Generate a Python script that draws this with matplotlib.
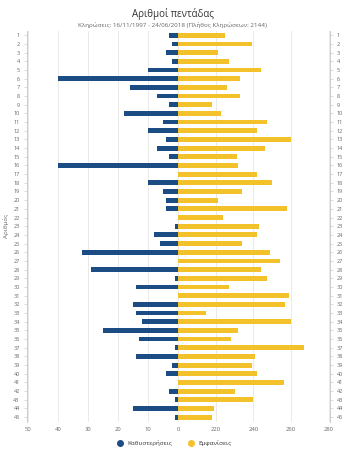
import numpy as np
import matplotlib
matplotlib.use("Agg")
import matplotlib.pyplot as plt
from matplotlib.lines import Line2D

plt.rcParams['font.family'] = ['Open Sans', 'DejaVu Sans']

# numbers 1..45
numbers = list(range(1, 46))

# delays (Καθυστερήσεις) per number
delays = [3, 2, 4, 2, 10, 40, 16, 7, 3, 18,
          5, 10, 4, 7, 3, 40, 0, 10, 5, 4,
          4, 0, 1, 8, 6, 32, 0, 29, 1, 14,
          0, 15, 14, 12, 25, 13, 1, 14, 2, 4,
          0, 3, 1, 15, 1]

# appearances (Εμφανίσεις) per number
appearances = [225, 239, 221, 227, 244, 233, 226, 233, 218, 223,
               247, 242, 260, 246, 231, 232, 242, 250, 234, 221,
               258, 224, 243, 242, 234, 249, 254, 244, 247, 227,
               259, 257, 215, 260, 232, 228, 267, 241, 239, 242,
               256, 230, 240, 219, 218]

delay_ticks = [50, 40, 30, 20, 10, 0]
app_ticks = [220, 240, 260, 280]

blue = "#1b4c84"
yellow = "#f3c22b"
grid_c = "#e6e6e6"
text_c = "#666666"

fig = plt.figure(figsize=(3.45, 4.5), dpi=100)
fig.patch.set_facecolor("white")

ax = fig.add_axes([0.0774, 0.0633, 0.879, 0.868])
ax2 = ax.twiny()

y = np.array(numbers)

# delays on the left side (negative direction)
ax.barh(y, -np.array(delays), height=0.56, color=blue, zorder=3)
ax.set_xlim(-50.4, 50.5)
ax.set_xticks([-t for t in delay_ticks])
ax.set_xticklabels([str(t) for t in delay_ticks])

# appearances on the right side, starting at 200
base = 200
ax2.barh(y, np.array(appearances) - base, left=base, height=0.56, color=yellow, zorder=3)
ax2.set_xlim(base - 50.4 * 3.006 / 1.883, base + 50.5 * 3.006 / 1.883)
ax2.set_xticks(app_ticks)
ax2.set_xticklabels([str(t) for t in app_ticks])
ax2.xaxis.set_ticks_position('bottom')
ax2.xaxis.set_label_position('bottom')

# grid lines
for t in delay_ticks:
    ax.axvline(-t, color=grid_c, lw=0.6, zorder=0)
for t in app_ticks:
    ax2.axvline(t, color=grid_c, lw=0.6, zorder=0)

ax.set_ylim(45.5, 0.5)
ax.set_yticks(numbers)
ax.set_yticklabels([str(n) for n in numbers])
ax.tick_params(axis='y', labelsize=4, colors=text_c, length=2, width=0.5,
               pad=3, right=True, labelright=True, color="#cccccc")
for a in (ax, ax2):
    a.tick_params(axis='x', labelsize=4.2, colors=text_c, length=0, pad=4)
    for s in ('top', 'bottom'):
        a.spines[s].set_visible(False)
    for s in ('left', 'right'):
        a.spines[s].set_color("#cccccc")
        a.spines[s].set_linewidth(0.6)

ax.set_ylabel("Αριθμός", fontsize=4.5, color=text_c, labelpad=3)

fig.text(0.5, 0.983, "Αριθμοί πεντάδας", ha='center', va='top', fontsize=7, color="#333333")
fig.text(0.5, 0.95, "Κληρώσεις: 16/11/1997 - 24/06/2018 (Πλήθος Κληρώσεων: 2144)",
         ha='center', va='top', fontsize=4.5, color=text_c)

handles = [Line2D([], [], marker='o', ls='', color=blue, markersize=4),
           Line2D([], [], marker='o', ls='', color=yellow, markersize=4)]
fig.legend(handles, ["Καθυστερήσεις", "Εμφανίσεις"], loc='center',
           bbox_to_anchor=(0.5, 0.016), ncol=2, frameon=False, fontsize=4.5,
           handletextpad=0.2, columnspacing=2.0, labelcolor="#333333")

fig.savefig("out.png", dpi=100)
